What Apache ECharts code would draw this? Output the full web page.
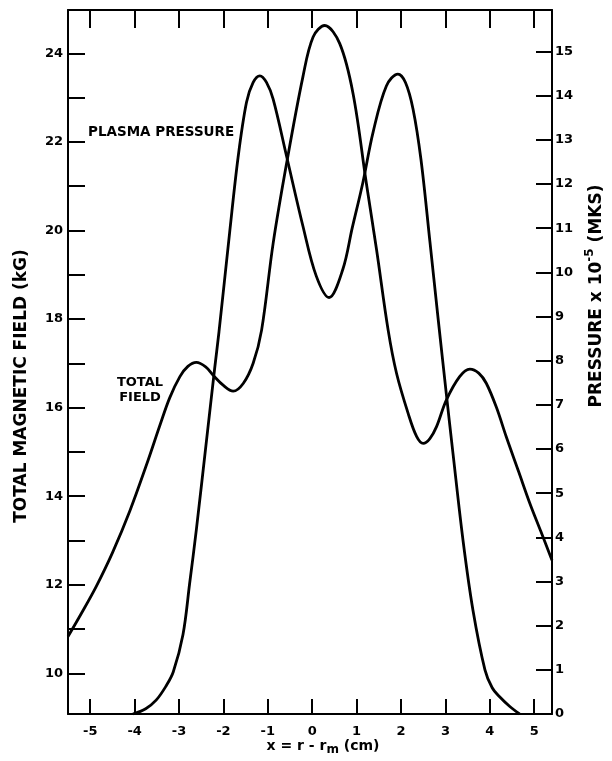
<!DOCTYPE html>
<html>
<head>
<meta charset="utf-8">
<script src="https://cdn.jsdelivr.net/npm/echarts@6/dist/echarts.min.js"></script>
<style>
html,body{margin:0;padding:0;background:#fff;}
#chart{width:612px;height:761px;}
</style>
</head>
<body>
<div id="chart"></div>
<script>
// ---- data ----
const xTicks = [-5, -4, -3, -2, -1, 0, 1, 2, 3, 4, 5];
const fieldTicks = [10, 11, 12, 13, 14, 15, 16, 17, 18, 19, 20, 21, 22, 23, 24];
const fieldLabels = [10, 12, 14, 16, 18, 20, 22, 24];
const pressTicks = [0, 1, 2, 3, 4, 5, 6, 7, 8, 9, 10, 11, 12, 13, 14, 15];

// Total magnetic field (kG) vs x (cm)
const fieldX = [-5.5, -5.2, -4.86, -4.5, -4.11, -3.7, -3.43, -3.21, -2.98, -2.8, -2.61, -2.4, -2.23, -2.0, -1.78, -1.55, -1.33, -1.14, -0.88, -0.58, -0.21, 0.02, 0.28, 0.62, 0.92, 1.22, 1.45, 1.71, 1.9, 2.16, 2.35, 2.5, 2.65, 2.8, 3.02, 3.32, 3.55, 3.75, 3.92, 4.15, 4.37, 4.65, 4.9, 5.15, 5.4];
const fieldY = [10.83, 11.35, 11.97, 12.72, 13.66, 14.8, 15.6, 16.22, 16.7, 16.93, 17.02, 16.92, 16.73, 16.5, 16.37, 16.55, 17.0, 17.75, 19.71, 21.5, 23.47, 24.37, 24.63, 24.22, 23.09, 21.06, 19.56, 17.75, 16.77, 15.87, 15.35, 15.19, 15.3, 15.57, 16.17, 16.7, 16.87, 16.78, 16.55, 16.0, 15.34, 14.55, 13.84, 13.2, 12.55];

// Plasma pressure (x 10^-5 MKS) vs x (cm)
const pressX = [-4.04, -3.75, -3.51, -3.3, -3.13, -2.91, -2.76, -2.61, -2.38, -2.2, -2.1, -1.86, -1.67, -1.48, -1.33, -1.18, -1.03, -0.88, -0.58, -0.21, 0.09, 0.38, 0.69, 0.9, 1.14, 1.37, 1.67, 1.93, 2.1, 2.27, 2.45, 2.65, 2.83, 3.02, 3.17, 3.4, 3.62, 3.89, 4.05, 4.22, 4.45, 4.67];
const pressY = [0, 0.12, 0.32, 0.62, 0.95, 1.8, 2.96, 4.17, 6.2, 7.8, 8.65, 10.9, 12.6, 13.85, 14.3, 14.45, 14.3, 13.92, 12.64, 11.05, 9.92, 9.43, 10.07, 11.0, 12.03, 13.17, 14.22, 14.49, 14.3, 13.7, 12.55, 10.7, 9.0, 7.25, 5.9, 3.9, 2.35, 1.0, 0.6, 0.39, 0.17, 0.0];

const fieldData = fieldX.map((x, i) => [x, fieldY[i]]);
const pressData = pressX.map((x, i) => [x, pressY[i]]);

const FONT = '"DejaVu Sans", sans-serif';
const lineSty = { color: '#000', width: 2 };
const labelSty = { color: '#000', fontFamily: FONT, fontWeight: 'bold', fontSize: 13 };

const chart = echarts.init(document.getElementById('chart'), null, { renderer: 'canvas' });
chart.setOption({
  backgroundColor: '#fff',
  animation: false,
  grid: { left: 68, right: 60, top: 10, bottom: 47 },
  xAxis: [
    {
      type: 'value', position: 'bottom', min: -5.5, max: 5.4,
      axisLine: { show: true, onZero: false, lineStyle: lineSty },
      axisTick: { show: true, inside: true, length: 15, customValues: xTicks, lineStyle: lineSty },
      axisLabel: Object.assign({ margin: 11, customValues: xTicks, formatter: v => (v < 0 ? '-' + Math.abs(v) : String(v)) }, labelSty),
      splitLine: { show: false }
    },
    {
      type: 'value', position: 'top', min: -5.5, max: 5.4,
      axisLine: { show: true, onZero: false, lineStyle: lineSty },
      axisTick: { show: true, inside: true, length: 18, customValues: xTicks, lineStyle: lineSty },
      axisLabel: { show: false },
      splitLine: { show: false }
    }
  ],
  yAxis: [
    {
      type: 'value', position: 'left', min: 9.08, max: 24.98,
      axisLine: { show: true, onZero: false, lineStyle: lineSty },
      axisTick: { show: true, inside: true, length: 17, customValues: fieldTicks, lineStyle: lineSty },
      axisLabel: Object.assign({ margin: 5, customValues: fieldLabels }, labelSty),
      splitLine: { show: false }
    },
    {
      type: 'value', position: 'right', min: 0, max: 15.94,
      axisLine: { show: true, onZero: false, lineStyle: lineSty },
      axisTick: { show: true, inside: true, length: 16, customValues: pressTicks, lineStyle: lineSty },
      axisLabel: Object.assign({ margin: 3, customValues: pressTicks }, labelSty),
      splitLine: { show: false }
    }
  ],
  series: [
    {
      name: 'TOTAL FIELD', type: 'line', xAxisIndex: 0, yAxisIndex: 0,
      data: fieldData, symbol: 'none', smooth: 0.35,
      lineStyle: { color: '#000', width: 2.8 }
    },
    {
      name: 'PLASMA PRESSURE', type: 'line', xAxisIndex: 0, yAxisIndex: 1,
      data: pressData, symbol: 'none', smooth: 0.35,
      lineStyle: { color: '#000', width: 2.8 }
    }
  ],
  graphic: [
    {
      type: 'text', x: 21.5, y: 386, rotation: Math.PI / 2,
      style: { text: 'TOTAL MAGNETIC FIELD (kG)', fill: '#000', font: 'bold 17px ' + FONT, textAlign: 'center', textVerticalAlign: 'middle' }
    },
    {
      type: 'text', x: 597, y: 296, rotation: Math.PI / 2,
      style: {
        text: 'PRESSURE x 10{sup|-5} (MKS)', fill: '#000', font: 'bold 17px ' + FONT,
        textAlign: 'center', textVerticalAlign: 'middle', lineHeight: 26,
        rich: { sup: { fontSize: 12, fontWeight: 'bold', fontFamily: FONT, verticalAlign: 'top', lineHeight: 12, fill: '#000' } }
      }
    },
    {
      type: 'text', x: 323, y: 746,
      style: {
        text: 'x = r - r{sub|m} (cm)', fill: '#000', font: 'bold 14px ' + FONT,
        textAlign: 'center', textVerticalAlign: 'middle', lineHeight: 20,
        rich: { sub: { fontSize: 12, fontWeight: 'bold', fontFamily: FONT, verticalAlign: 'bottom', lineHeight: 12, fill: '#000' } }
      }
    },
    {
      type: 'text', x: 88, y: 132,
      style: { text: 'PLASMA PRESSURE', fill: '#000', font: 'bold 13.5px ' + FONT, textAlign: 'left', textVerticalAlign: 'middle' }
    },
    {
      type: 'text', x: 140, y: 390,
      style: { text: 'TOTAL\nFIELD', fill: '#000', font: 'bold 13px ' + FONT, textAlign: 'center', textVerticalAlign: 'middle', lineHeight: 15 }
    }
  ]
});
</script>
</body>
</html>
